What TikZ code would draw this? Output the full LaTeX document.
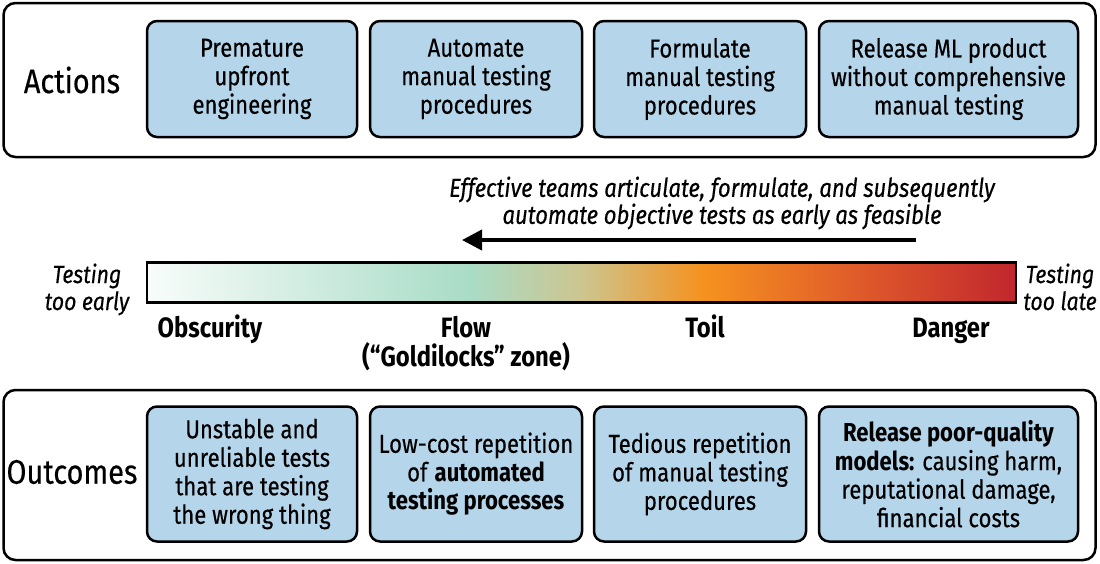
\documentclass[tikz,border=0pt]{standalone}
\usepackage{fontspec}
\setmainfont{Fira Sans}[FakeStretch=0.85, UprightFeatures={FakeBold=0.4}, ItalicFeatures={FakeBold=0.4}]
\usetikzlibrary{arrows.meta}
\definecolor{boxblue}{HTML}{B4D5EA}
\definecolor{gw}{HTML}{F8FCFA}
\definecolor{gg}{HTML}{A9DCC7}
\definecolor{gt}{HTML}{CDC58F}
\definecolor{go}{HTML}{F5921F}
\definecolor{gr1}{HTML}{DF5A2A}
\definecolor{gr}{HTML}{C1272D}
\pgfdeclarehorizontalshading{tempbar}{100bp}{color(0bp)=(gw); color(25bp)=(gw); color(43.5bp)=(gg); color(50bp)=(gt); color(57bp)=(go); color(66bp)=(gr1); color(75bp)=(gr); color(100bp)=(gr)}
\tikzset{
  outerbox/.style={draw=black, line width=2.5pt, rounded corners=12pt, inner sep=0pt},
  itembox/.style={draw=black, fill=boxblue, line width=2.5pt, rounded corners=10pt, inner sep=0pt, align=center,
    font=\fontsize{26}{28.5}\selectfont},
  rowlabel/.style={font=\fontsize{34}{38}\selectfont\addfontfeatures{FakeBold=1.2}},
  scalelabel/.style={font=\fontsize{28}{28}\selectfont\bfseries, align=center, anchor=base},
  sidelabel/.style={font=\fontsize{25}{27}\selectfont\itshape, align=center, anchor=north},
  note/.style={font=\fontsize{26}{27}\selectfont\itshape, align=center},
}
\begin{document}
\begin{tikzpicture}[x=1pt,y=-1pt]
\useasboundingbox (0,0) rectangle (1100,563);
% Actions row
\node[outerbox, minimum width=1092pt, minimum height=154pt] (act) at (549.5,80) {};
\node[rowlabel] (actlab) at (72,80) {Actions};
\node[itembox, minimum width=210pt, minimum height=116pt] (a1) at (252,79) {Premature\\upfront\\engineering};
\node[itembox, minimum width=212pt, minimum height=116pt] (a2) at (476,79) {Automate\\manual testing\\procedures};
\node[itembox, minimum width=212pt, minimum height=116pt] (a3) at (700,79) {Formulate\\manual testing\\procedures};
\node[itembox, minimum width=259pt, minimum height=116pt] (a4) at (948.5,79) {Release ML product\\without comprehensive\\manual testing};
% arrow and note
\node[note] (nt) at (722,203) {Effective teams articulate, formulate, and subsequently\\automate objective tests as early as feasible};
\coordinate (ar1) at (916,240);
\coordinate (ar2) at (462,240);
\draw[line width=4pt, -{Triangle[length=20pt,width=20pt]}] (ar1) -- (ar2);
% gradient bar
\node[draw=black, line width=2.5pt, shading=tempbar, minimum width=869pt, minimum height=40pt, inner sep=0pt] (bar) at (581.5,282.5) {};
\node[sidelabel] (early) at (87,260) {Testing\\too early};
\node[sidelabel] (late) at (1060,260) {Testing\\too late};
\node[scalelabel] (s1) at (210,337) {Obscurity};
\node[scalelabel] (s2) at (466,337) {Flow};
\node[scalelabel] (s2b) at (466,366) {(``Goldilocks'' zone)};
\node[scalelabel] (s3) at (705,337) {Toil};
\node[scalelabel] (s4) at (951,337) {Danger};
% Outcomes row
\node[outerbox, minimum width=1092pt, minimum height=170pt] (out) at (549.5,475) {};
\node[rowlabel] (outlab) at (72,472) {Outcomes};
\node[itembox, minimum width=210pt, minimum height=135pt] (o1) at (252,474) {Unstable and\\unreliable tests\\that are testing\\the wrong thing};
\node[itembox, minimum width=212pt, minimum height=135pt] (o2) at (476,474) {Low-cost repetition\\of \textbf{automated}\\\textbf{testing processes}};
\node[itembox, minimum width=212pt, minimum height=135pt] (o3) at (700,474) {Tedious repetition\\of manual testing\\procedures};
\node[itembox, minimum width=259pt, minimum height=135pt] (o4) at (948.5,474) {\textbf{Release poor-quality}\\\textbf{models:} causing harm,\\reputational damage,\\financial costs};
\end{tikzpicture}
\end{document}
